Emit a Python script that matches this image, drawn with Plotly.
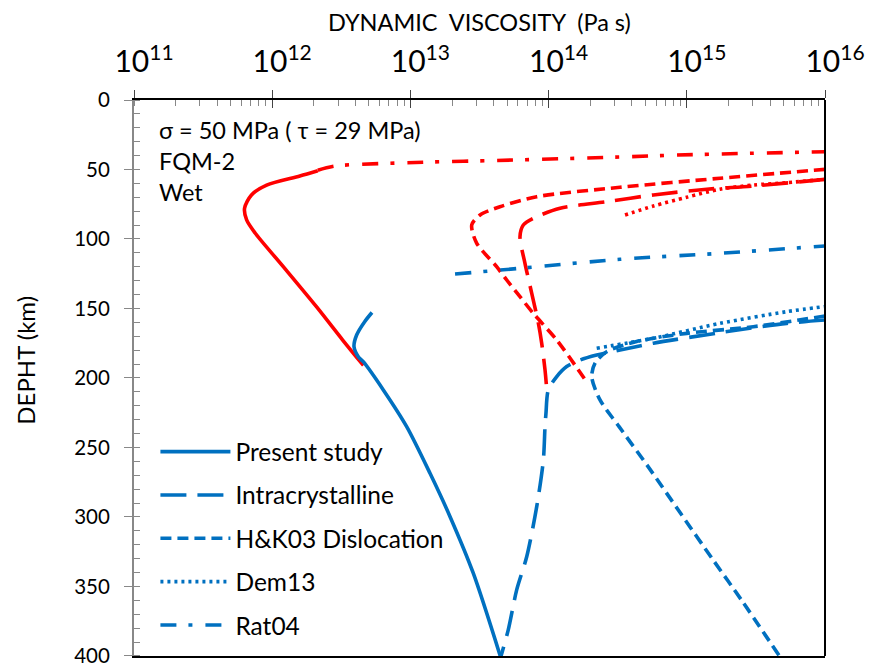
import numpy as np
import plotly.graph_objects as go

RED = "#FF0000"
BLUE = "#0070C0"

# ---- Data (log10 of dynamic viscosity in Pa s, depth in km) ----
# Present study
present_red_log_eta = [12.33, 12.20, 11.96, 11.85, 11.80, 11.815, 11.876, 12.08, 12.32, 12.51, 12.66]
present_red_depth = [50.9, 54.7, 61.2, 68.3, 77.9, 86.3, 95.7, 119.9, 148.7, 172.7, 191.0]
present_blue_log_eta = [12.722, 12.669, 12.611, 12.592, 12.623, 12.659, 12.804, 12.973, 13.142, 13.287, 13.455, 13.65]
present_blue_depth = [152.9, 159.5, 169.1, 177.5, 184.7, 188.3, 208.6, 235.0, 268.6, 299.8, 340.5, 400.0]

# Intracrystalline
intra_red_log_eta = [16.0, 15.481, 15.144, 14.758, 14.42, 14.083, 13.89, 13.817, 13.793, 13.829, 13.878, 13.926, 13.95, 13.974, 13.986]
intra_red_depth = [57.1, 61.9, 64.2, 68.3, 73.2, 77.9, 85.1, 89.9, 98.3, 117.5, 139.1, 160.6, 175.0, 194.2, 207.4]
intra_blue_log_eta = [16.0, 15.723, 15.24, 14.758, 14.517, 14.348, 14.227, 14.131, 14.059, 13.998, 13.981, 13.974, 13.962, 13.914, 13.842, 13.769, 13.708, 13.656]
intra_blue_depth = [158.3, 160.7, 167.4, 175.0, 179.9, 183.5, 187.1, 191.8, 199.0, 208.6, 225.4, 235.0, 259.0, 292.6, 328.5, 352.5, 381.3, 400.0]

# H&K03 Dislocation
hk_red_log_eta = [16.0, 15.24, 14.517, 13.914, 13.648, 13.504, 13.444, 13.48, 13.624, 13.697, 13.793, 13.889, 14.059, 14.274]
hk_red_depth = [49.9, 56.3, 62.8, 69.6, 76.8, 82.7, 89.9, 103.1, 119.9, 129.5, 141.5, 153.5, 172.7, 202.7]
hk_blue_log_eta = [16.0, 15.481, 14.999, 14.637, 14.42, 14.336, 14.312, 14.372, 14.51, 14.72, 14.955, 15.19, 15.395, 15.67]
hk_blue_depth = [155.4, 163.1, 167.9, 173.8, 181.1, 189.4, 199.0, 215.8, 235.0, 263.8, 297.4, 330.9, 359.7, 400.0]

# Dem13
dem_red_log_eta = [14.553, 14.758, 14.999, 15.24, 15.481, 15.723, 16.0]
dem_red_depth = [82.7, 76.3, 70.0, 64.2, 61.2, 59.5, 57.0]
dem_blue_log_eta = [14.348, 14.758, 15.24, 15.723, 16.0]
dem_blue_depth = [178.6, 171.4, 160.7, 152.3, 148.6]

# Rat04
rat_red_log_eta = [12.33, 12.454, 13.093, 13.624, 14.589, 14.927, 16.0]
rat_red_depth = [50.5, 47.5, 44.8, 43.5, 40.8, 39.6, 37.2]
rat_blue_log_eta = [13.323, 13.793, 14.517, 15.24, 16.0]
rat_blue_depth = [125.2, 121.1, 114.6, 110.3, 105.0]

depth_ticks = [0, 50, 100, 150, 200, 250, 300, 350, 400]

FONT = "Lato"
LW = 3.6

series = [
    ("Present study", "solid", present_blue_log_eta, present_blue_depth, present_red_log_eta, present_red_depth),
    ("Intracrystalline", "26px,11px", intra_blue_log_eta, intra_blue_depth, intra_red_log_eta, intra_red_depth),
    ("H&K03 Dislocation", "11px,6px", hk_blue_log_eta, hk_blue_depth, hk_red_log_eta, hk_red_depth),
    ("Dem13", "3px,4px", dem_blue_log_eta, dem_blue_depth, dem_red_log_eta, dem_red_depth),
    ("Rat04", "16px,12px,4px,13px", rat_blue_log_eta, rat_blue_depth, rat_red_log_eta, rat_red_depth),
]

fig = go.Figure()
for i, (name, dash, bx, by, rx, ry) in enumerate(series):
    fig.add_trace(go.Scatter(
        x=np.power(10.0, rx), y=ry, mode="lines", name=name, legendgroup=f"g{i}",
        showlegend=False, line=dict(color=RED, width=LW, dash=dash, shape="spline", smoothing=0.8),
    ))
for i, (name, dash, bx, by, rx, ry) in enumerate(series):
    fig.add_trace(go.Scatter(
        x=np.power(10.0, bx), y=by, mode="lines", name=name, legendgroup=f"g{i}",
        showlegend=True, line=dict(color=BLUE, width=LW, dash=dash, shape="spline", smoothing=0.8),
    ))

# The page body has an 8px margin, so the figure is 8px smaller and margins shifted by 8px.
fig.update_layout(
    width=883, height=658,
    margin=dict(l=126, r=66, t=92, b=10),
    paper_bgcolor="white", plot_bgcolor="white",
    font=dict(family=FONT, color="black", size=20),
    showlegend=True,
    legend=dict(
        x=0.031, y=0.408, xanchor="left", yanchor="top",
        traceorder="grouped", tracegroupgap=8.5, itemwidth=70,
        font=dict(family=FONT, size=24.5), bgcolor="rgba(0,0,0,0)",
    ),
    xaxis=dict(
        type="log", range=[11, 16], side="top", dtick=1,
        exponentformat="power", showexponent="all",
        showline=True, linecolor="black", linewidth=2, mirror=True,
        ticks="outside", ticklen=8, tickcolor="#444", tickwidth=1,
        minor=dict(dtick="D1", ticks="inside", ticklen=6, tickcolor="#888", showgrid=False),
        showgrid=False, zeroline=False,
        tickfont=dict(family=FONT, size=24), ticklabelstandoff=7, ticklabelshift=10,
        automargin=False,
    ),
    xaxis2=dict(
        type="log", range=[11, 16], side="top", overlaying="x", matches="x", dtick=1,
        showline=False, showgrid=False, zeroline=False, showticklabels=False,
        ticks="inside", ticklen=8, tickcolor="#444", tickwidth=1,
    ),
    yaxis=dict(
        range=[400.05, 0], tickmode="array", tickvals=depth_ticks,
        showline=True, linecolor="#888", linewidth=2,
        ticks="outside", ticklen=8, tickcolor="#888", tickwidth=1,
        minor=dict(dtick=10, tick0=0, ticks="inside", ticklen=6, tickcolor="#888", showgrid=False),
        showgrid=False, zeroline=False,
        tickfont=dict(family=FONT, size=20.5), ticklabelstandoff=10,
        ticklabeloverflow="allow",
        automargin=False,
    ),
    shapes=[dict(type="line", xref="paper", yref="paper", x0=1, x1=1, y0=0, y1=1,
                 line=dict(color="black", width=2))],
    annotations=[
        dict(text="DYNAMIC  VISCOSITY  (Pa s)", x=0.5, y=1.140, xref="paper", yref="paper",
             xanchor="center", yanchor="middle", showarrow=False, borderpad=0,
             font=dict(family=FONT, size=23.5)),
        dict(text="DEPHT (km)", x=-0.157, y=0.532, xref="paper", yref="paper", textangle=-90,
             xanchor="center", yanchor="middle", showarrow=False, font=dict(family=FONT, size=24)),
        dict(text="σ = 50 MPa ( τ = 29 MPa)", x=0.033, y=0.946, xref="paper", yref="paper",
             xanchor="left", yanchor="middle", showarrow=False, font=dict(family=FONT, size=23.5)),
        dict(text="FQM-2", x=0.033, y=0.890, xref="paper", yref="paper",
             xanchor="left", yanchor="middle", showarrow=False, font=dict(family=FONT, size=23.5)),
        dict(text="Wet", x=0.033, y=0.835, xref="paper", yref="paper",
             xanchor="left", yanchor="middle", showarrow=False, font=dict(family=FONT, size=23.5)),
    ],
)
# invisible helper trace so the overlaid top axis (inner halves of the crossing ticks) is drawn
fig.add_trace(go.Scatter(x=[1e11], y=[0], xaxis="x2", mode="markers",
                         marker=dict(opacity=0), showlegend=False, hoverinfo="skip"))

fig.write_html("out.html")
